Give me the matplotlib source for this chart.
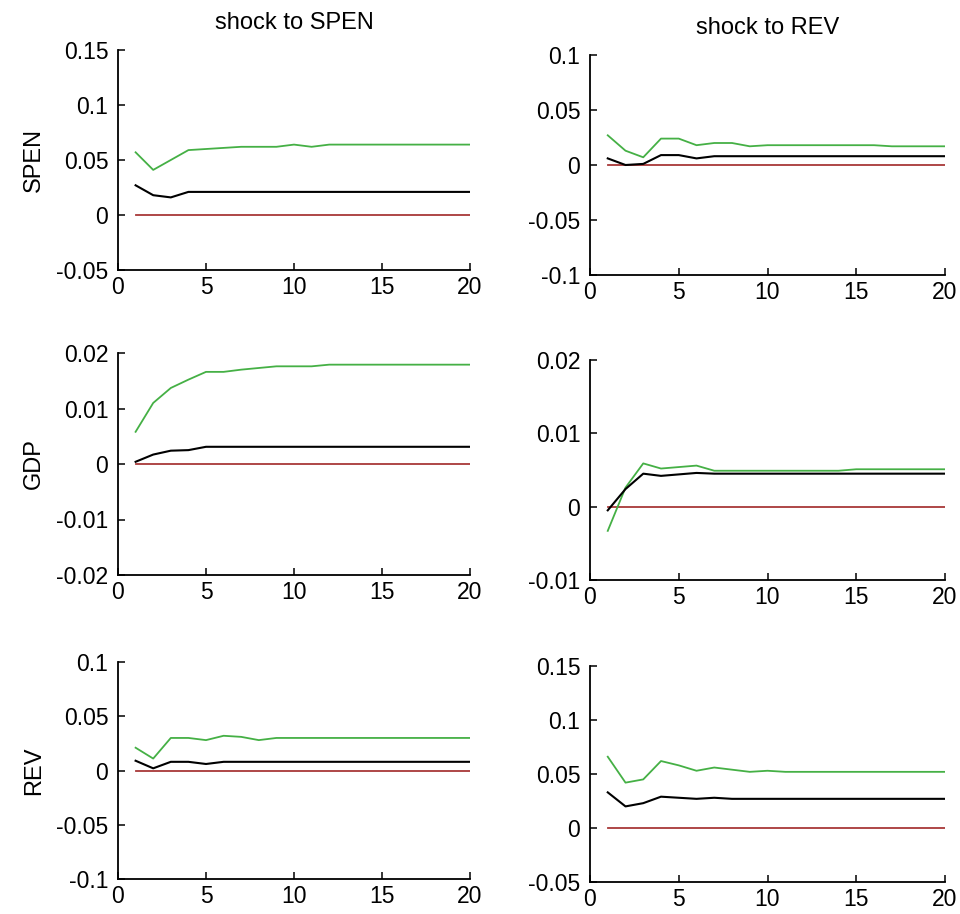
import numpy as np
import matplotlib
matplotlib.use("Agg")
import matplotlib.pyplot as plt

plt.rcParams['font.family'] = ['Liberation Sans', 'DejaVu Sans']

# horizon
periods = list(range(1, 21))

shock_names = ["SPEN", "REV"]
var_names = ["SPEN", "GDP", "REV"]

# upper band (green) and median response (black), one per panel
spen_spen_upper = [0.057, 0.041, 0.050, 0.059, 0.060, 0.061, 0.062, 0.062, 0.062, 0.064,
                   0.062, 0.064, 0.064, 0.064, 0.064, 0.064, 0.064, 0.064, 0.064, 0.064]
spen_spen_mid = [0.027, 0.018, 0.016, 0.021, 0.021, 0.021, 0.021, 0.021, 0.021, 0.021,
                 0.021, 0.021, 0.021, 0.021, 0.021, 0.021, 0.021, 0.021, 0.021, 0.021]

spen_rev_upper = [0.027, 0.013, 0.007, 0.024, 0.024, 0.018, 0.020, 0.020, 0.017, 0.018,
                  0.018, 0.018, 0.018, 0.018, 0.018, 0.018, 0.017, 0.017, 0.017, 0.017]
spen_rev_mid = [0.006, 0.000, 0.001, 0.009, 0.009, 0.006, 0.008, 0.008, 0.008, 0.008,
                0.008, 0.008, 0.008, 0.008, 0.008, 0.008, 0.008, 0.008, 0.008, 0.008]

gdp_spen_upper = [0.0058, 0.0110, 0.0137, 0.0152, 0.0166, 0.0166, 0.0170, 0.0173, 0.0176, 0.0176,
                  0.0176, 0.0179, 0.0179, 0.0179, 0.0179, 0.0179, 0.0179, 0.0179, 0.0179, 0.0179]
gdp_spen_mid = [0.0004, 0.0017, 0.0024, 0.0025, 0.0031, 0.0031, 0.0031, 0.0031, 0.0031, 0.0031,
                0.0031, 0.0031, 0.0031, 0.0031, 0.0031, 0.0031, 0.0031, 0.0031, 0.0031, 0.0031]

gdp_rev_upper = [-0.0033, 0.0026, 0.0059, 0.0052, 0.0054, 0.0056, 0.0049, 0.0049, 0.0049, 0.0049,
                 0.0049, 0.0049, 0.0049, 0.0049, 0.0051, 0.0051, 0.0051, 0.0051, 0.0051, 0.0051]
gdp_rev_mid = [-0.0005, 0.0024, 0.0045, 0.0042, 0.0044, 0.0046, 0.0045, 0.0045, 0.0045, 0.0045,
               0.0045, 0.0045, 0.0045, 0.0045, 0.0045, 0.0045, 0.0045, 0.0045, 0.0045, 0.0045]

rev_spen_upper = [0.021, 0.011, 0.030, 0.030, 0.028, 0.032, 0.031, 0.028, 0.030, 0.030,
                  0.030, 0.030, 0.030, 0.030, 0.030, 0.030, 0.030, 0.030, 0.030, 0.030]
rev_spen_mid = [0.009, 0.002, 0.008, 0.008, 0.006, 0.008, 0.008, 0.008, 0.008, 0.008,
                0.008, 0.008, 0.008, 0.008, 0.008, 0.008, 0.008, 0.008, 0.008, 0.008]

rev_rev_upper = [0.066, 0.042, 0.045, 0.062, 0.058, 0.053, 0.056, 0.054, 0.052, 0.053,
                 0.052, 0.052, 0.052, 0.052, 0.052, 0.052, 0.052, 0.052, 0.052, 0.052]
rev_rev_mid = [0.033, 0.020, 0.023, 0.029, 0.028, 0.027, 0.028, 0.027, 0.027, 0.027,
               0.027, 0.027, 0.027, 0.027, 0.027, 0.027, 0.027, 0.027, 0.027, 0.027]

zero_line = [0.0] * 20

uppers = [[spen_spen_upper, spen_rev_upper],
          [gdp_spen_upper, gdp_rev_upper],
          [rev_spen_upper, rev_rev_upper]]
mids = [[spen_spen_mid, spen_rev_mid],
        [gdp_spen_mid, gdp_rev_mid],
        [rev_spen_mid, rev_rev_mid]]

yticks = [[[-0.05, 0, 0.05, 0.1, 0.15], [-0.1, -0.05, 0, 0.05, 0.1]],
          [[-0.02, -0.01, 0, 0.01, 0.02], [-0.01, 0, 0.01, 0.02]],
          [[-0.1, -0.05, 0, 0.05, 0.1], [-0.05, 0, 0.05, 0.1, 0.15]]]
xticks = [0, 5, 10, 15, 20]

# axes boxes in pixels: left, top, right, bottom
boxes = [[(118, 50, 470, 270), (590, 55, 945, 275)],
         [(118, 353, 470, 575), (590, 360, 945, 580)],
         [(118, 662, 470, 879), (590, 666, 945, 882)]]

W, H = 960, 914
fig = plt.figure(figsize=(W / 100, H / 100), dpi=100)

fs = 16.5
for i in range(3):
    for j in range(2):
        l, t, r, b = boxes[i][j]
        ax = fig.add_axes([l / W, 1 - b / H, (r - l) / W, (b - t) / H])
        ax.plot(periods, zero_line, color='#a83838', lw=1.3)
        ax.plot(periods, uppers[i][j], color='#45b045', lw=1.3)
        ax.plot(periods, mids[i][j], color='black', lw=1.5)
        yt = yticks[i][j]
        ax.set_ylim(yt[0], yt[-1])
        ax.set_xlim(0, 20)
        ax.set_yticks(yt)
        ax.set_yticklabels(['{:g}'.format(v) for v in yt])
        ax.set_xticks(xticks)
        ax.set_xticklabels([str(v) for v in xticks])
        for s in ['top', 'right']:
            ax.spines[s].set_visible(False)
        for s in ['left', 'bottom']:
            ax.spines[s].set_linewidth(1.3)
        ax.tick_params(direction='in', length=5, width=1.1, labelsize=fs)
        ax.tick_params(axis='y', pad=7)
        ax.tick_params(axis='x', pad=4)
        if i == 0:
            ax.set_title('shock to ' + shock_names[j], fontsize=17, pad=15)
        if j == 0:
            ax.set_ylabel(var_names[i], fontsize=17, labelpad=8)

fig.savefig('out.png', dpi=100)
